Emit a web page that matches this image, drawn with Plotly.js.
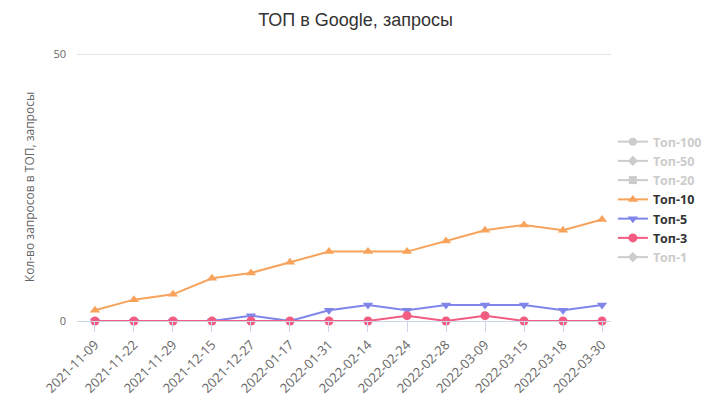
<!DOCTYPE html>
<html>
<head>
<meta charset="utf-8">
<script src="https://cdn.plot.ly/plotly-3.0.1.min.js"></script>
<style>html,body{margin:0;padding:0;background:#fff;}#chart{width:711px;height:399px;}</style>
</head>
<body>
<div id="chart"></div>
<script>
const dates = ["2021-11-09","2021-11-22","2021-11-29","2021-12-15","2021-12-27","2022-01-17","2022-01-31","2022-02-14","2022-02-24","2022-02-28","2022-03-09","2022-03-15","2022-03-18","2022-03-30"];
const top10 = [2,4,5,8,9,11,13,13,13,15,17,18,17,19];
const top5  = [0,0,0,0,1,0,2,3,2,3,3,3,2,3];
const top3  = [0,0,0,0,0,0,0,0,1,0,1,0,0,0];
const hiddenValues = [null]; // series switched off in the legend: no values shown
const seriesNames = ["Топ-100","Топ-50","Топ-20","Топ-10","Топ-5","Топ-3","Топ-1"];

const hiddenColor = "#cccccc";
function hidden(name, symbol){
  return {type:"scatter", mode:"lines+markers",
    name:'<span style="color:#cccccc">' + name + '</span>',
    x:[dates[0]], y:hiddenValues,
    line:{color:hiddenColor, width:2}, marker:{color:hiddenColor, symbol:symbol, size:8}};
}
function shown(name, ys, color, symbol){
  return {type:"scatter", mode:"lines+markers", name:name, x:dates, y:ys,
    line:{color:color, width:2}, marker:{color:color, symbol:symbol, size:9}, cliponaxis:false};
}
const traces = [
  hidden(seriesNames[0], "circle"),
  hidden(seriesNames[1], "diamond"),
  hidden(seriesNames[2], "square"),
  shown(seriesNames[3], top10, "#f7a35c", "triangle-up"),
  shown(seriesNames[4], top5, "#8085e9", "triangle-down"),
  shown(seriesNames[5], top3, "#f15c80", "circle"),
  hidden(seriesNames[6], "diamond")
];
const layout = {
  width:711, height:399,
  margin:{l:77, r:100, t:53, b:78, autoexpand:false},
  paper_bgcolor:"#fff", plot_bgcolor:"#fff",
  font:{family:"Open Sans, Liberation Sans, sans-serif", color:"#666"},
  title:{text:"ТОП в Google, запросы", x:0.5, xanchor:"center", y:0.95, yanchor:"middle",
    font:{size:18, color:"#333", family:"Liberation Sans, Arial, sans-serif"}},
  xaxis:{type:"category", range:[-0.46, 13.23], showgrid:false, zeroline:false,
    showline:true, linecolor:"#ccd6eb", linewidth:1,
    ticks:"outside", ticklen:10, tickcolor:"#ccd6eb",
    tickangle:-45, tickfont:{size:13, color:"#666"}, automargin:false},
  yaxis:{range:[0,50.2], tickvals:[0,50], ticktext:["0","50"], showgrid:true, gridcolor:"#e6e6e6",
    zeroline:false, showline:false, ticks:"", ticklabelstandoff:10, automargin:false,
    tickfont:{size:11, color:"#666"},
    title:{text:"Кол-во запросов в ТОП, запросы", font:{size:12, color:"#666"}, standoff:16}},
  legend:{xref:"container", yref:"container", x:0.862, xanchor:"left", y:0.5, yanchor:"middle",
    font:{size:12.5, color:"#333", weight:"bold"},
    tracegroupgap:0, itemwidth:30, bgcolor:"rgba(0,0,0,0)"},
  showlegend:true
};
Plotly.newPlot("chart", traces, layout, {displayModeBar:false, staticPlot:true});
</script>
</body>
</html>
